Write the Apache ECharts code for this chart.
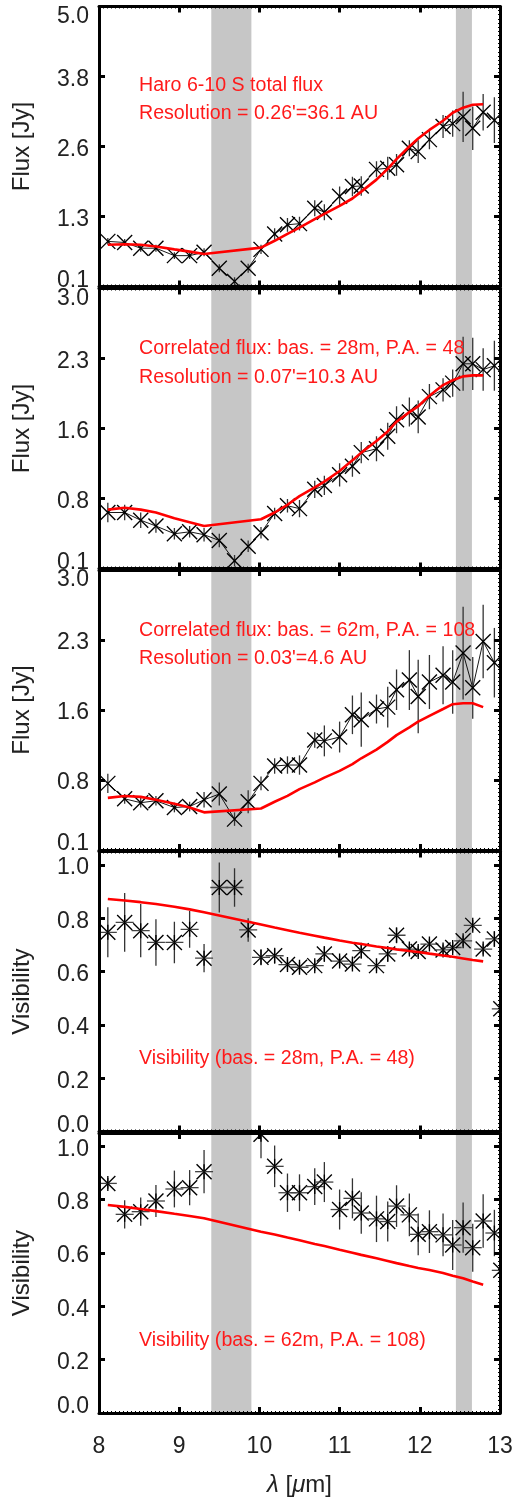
<!DOCTYPE html>
<html><head><meta charset="utf-8">
<script src="https://cdn.jsdelivr.net/npm/echarts@6/dist/echarts.min.js"></script>
<style>html,body{margin:0;padding:0;background:#fff}#c{width:517px;height:1503px}</style>
</head><body><div id="c"></div>
<script>
// ---------- data ----------
const wavelength = [8.11, 8.32, 8.52, 8.71, 8.94, 9.13, 9.31, 9.50, 9.69, 9.86, 10.02, 10.19, 10.35, 10.50, 10.69, 10.81, 11.00, 11.16, 11.27, 11.46, 11.60, 11.71, 11.87, 11.98, 12.12, 12.29, 12.41, 12.54, 12.66, 12.79, 12.93, 13.01];
const modelWavelength = [8.11, 8.32, 8.52, 8.71, 8.94, 9.13, 9.31, 10.02, 10.19, 10.35, 10.50, 10.69, 10.81, 11.00, 11.16, 11.27, 11.46, 11.60, 11.71, 11.87, 11.98, 12.12, 12.29, 12.41, 12.54, 12.66, 12.79];
const bands = [[9.4, 9.9], [12.45, 12.65]];

const totalFlux    = [0.89, 0.87, 0.77, 0.77, 0.64, 0.64, 0.70, 0.42, 0.19, 0.42, 0.75, 1.02, 1.18, 1.20, 1.47, 1.40, 1.68, 1.85, 1.86, 2.15, 2.17, 2.23, 2.52, 2.46, 2.67, 2.90, 2.95, 3.07, 2.87, 3.15, 3.01];
const totalFluxErr = [0.06, 0.06, 0.06, 0.06, 0.06, 0.06, 0.07, 0.07, 0.07, 0.08, 0.08, 0.10, 0.12, 0.12, 0.14, 0.14, 0.17, 0.17, 0.17, 0.14, 0.20, 0.19, 0.14, 0.20, 0.17, 0.20, 0.23, 0.44, 0.38, 0.32, 0.40];
const totalModel   = [0.83, 0.84, 0.83, 0.80, 0.75, 0.71, 0.67, 0.78, 0.90, 1.02, 1.13, 1.28, 1.37, 1.51, 1.64, 1.76, 1.97, 2.16, 2.33, 2.55, 2.69, 2.84, 3.00, 3.14, 3.23, 3.28, 3.29];

const corrFlux28    = [0.68, 0.68, 0.60, 0.54, 0.46, 0.48, 0.45, 0.39, 0.18, 0.33, 0.47, 0.67, 0.75, 0.72, 0.92, 0.96, 1.07, 1.16, 1.30, 1.34, 1.47, 1.64, 1.72, 1.67, 1.88, 1.95, 2.02, 2.22, 2.22, 2.16, 2.20];
const corrFlux28Err = [0.10, 0.08, 0.08, 0.07, 0.06, 0.06, 0.07, 0.07, 0.06, 0.06, 0.06, 0.06, 0.07, 0.09, 0.09, 0.10, 0.12, 0.11, 0.11, 0.13, 0.14, 0.14, 0.15, 0.17, 0.13, 0.12, 0.14, 0.28, 0.27, 0.22, 0.26];
const corrModel28   = [0.71, 0.73, 0.71, 0.68, 0.62, 0.58, 0.54, 0.61, 0.68, 0.76, 0.85, 0.94, 1.00, 1.11, 1.22, 1.30, 1.42, 1.52, 1.62, 1.72, 1.78, 1.89, 2.00, 2.05, 2.09, 2.10, 2.10];

const corrFlux62    = [0.79, 0.63, 0.59, 0.61, 0.54, 0.55, 0.62, 0.68, 0.42, 0.60, 0.79, 0.97, 0.98, 0.98, 1.24, 1.23, 1.27, 1.50, 1.45, 1.56, 1.58, 1.76, 1.86, 1.69, 1.84, 1.91, 1.84, 2.14, 1.78, 2.26, 2.04];
const corrFlux62Err = [0.10, 0.05, 0.05, 0.05, 0.05, 0.05, 0.08, 0.12, 0.07, 0.12, 0.07, 0.08, 0.09, 0.10, 0.08, 0.16, 0.16, 0.20, 0.28, 0.15, 0.21, 0.21, 0.31, 0.38, 0.28, 0.30, 0.33, 0.48, 0.32, 0.38, 0.36];
const corrModel62   = [0.64, 0.66, 0.65, 0.62, 0.58, 0.54, 0.49, 0.53, 0.60, 0.66, 0.73, 0.80, 0.85, 0.92, 0.99, 1.05, 1.14, 1.22, 1.29, 1.37, 1.43, 1.49, 1.56, 1.61, 1.62, 1.62, 1.58];

const vis28    = [0.747, 0.784, 0.753, 0.709, 0.709, 0.758, 0.650, 0.915, 0.915, 0.756, 0.653, 0.659, 0.626, 0.616, 0.622, 0.666, 0.639, 0.628, 0.678, 0.622, 0.666, 0.736, 0.684, 0.675, 0.703, 0.681, 0.690, 0.715, 0.773, 0.684, 0.722, 0.46];
const vis28Err = [0.094, 0.110, 0.100, 0.087, 0.078, 0.069, 0.053, 0.094, 0.072, 0.044, 0.030, 0.030, 0.020, 0.020, 0.020, 0.030, 0.020, 0.020, 0.030, 0.020, 0.030, 0.030, 0.020, 0.020, 0.020, 0.020, 0.020, 0.020, 0.020, 0.020, 0.030, 0.030];
const visModel28 = [0.872, 0.866, 0.860, 0.853, 0.843, 0.833, 0.822, 0.776, 0.765, 0.755, 0.745, 0.734, 0.727, 0.716, 0.708, 0.703, 0.694, 0.688, 0.683, 0.677, 0.673, 0.667, 0.660, 0.655, 0.649, 0.643, 0.638];

const vis62    = [0.861, 0.745, 0.755, 0.795, 0.840, 0.845, 0.905, null, null, null, 1.045, 0.925, 0.826, 0.826, 0.849, 0.866, 0.763, 0.805, 0.750, 0.728, 0.718, 0.776, 0.743, 0.670, 0.680, 0.668, 0.630, 0.695, 0.620, 0.720, 0.675, 0.535];
const vis62Err = [0.020, 0.053, 0.053, 0.060, 0.069, 0.066, 0.081, null, null, null, 0.090, 0.078, 0.072, 0.069, 0.069, 0.075, 0.075, 0.075, 0.078, 0.087, 0.075, 0.078, 0.080, 0.078, 0.080, 0.080, 0.094, 0.094, 0.090, 0.100, 0.087, 0.090];
const visModel62 = [0.780, 0.773, 0.765, 0.757, 0.747, 0.739, 0.730, 0.680, 0.669, 0.658, 0.648, 0.634, 0.626, 0.612, 0.601, 0.593, 0.580, 0.570, 0.562, 0.551, 0.544, 0.536, 0.525, 0.515, 0.505, 0.493, 0.481];

const fluxTicksTotal = ['0.1', '1.3', '2.6', '3.8', '5.0'];
const fluxTicksCorr  = ['0.1', '0.8', '1.6', '2.3', '3.0'];
const visTicks       = ['0.0', '0.2', '0.4', '0.6', '0.8', '1.0'];
const xTicks         = ['8', '9', '10', '11', '12', '13'];

const panelTexts = [
  ['Haro 6-10 S total flux', "Resolution = 0.26'=36.1 AU"],
  ['Correlated flux: bas. = 28m, P.A. = 48', "Resolution = 0.07'=10.3 AU"],
  ['Correlated flux: bas. = 62m, P.A. = 108', "Resolution = 0.03'=4.6 AU"],
  ['Visibility (bas. = 28m, P.A. = 48)'],
  ['Visibility (bas. = 62m, P.A. = 108)']
];

// ---------- layout ----------
const FONT = '"Liberation Sans", Arial, Helvetica, sans-serif';
const GRID_LEFT = 99, GRID_W = 401, GRID_H = 280;
const panels = [
  {top: 6.5,  min: 0.1, max: 5.0,  interval: 1.225, ticks: fluxTicksTotal, name: 'Flux [Jy]',  y: totalFlux,  err: totalFluxErr,  model: totalModel,  marker: 'x',   line: true,  textTop: [76, 104], minor: 17},
  {top: 288.5,min: 0.1, max: 3.0,  interval: 0.725, ticks: fluxTicksCorr,  name: 'Flux [Jy]',  y: corrFlux28, err: corrFlux28Err, model: corrModel28, marker: 'x',   line: true,  textTop: [339, 368], minor: 17},
  {top: 570,  min: 0.1, max: 3.0,  interval: 0.725, ticks: fluxTicksCorr,  name: 'Flux [Jy]',  y: corrFlux62, err: corrFlux62Err, model: corrModel62, marker: 'x',   line: true,  textTop: [621, 649], minor: 17},
  {top: 851.5,min: 0.0, max: 1.05, interval: 0.2,   ticks: visTicks,       name: 'Visibility', y: vis28,      err: vis28Err,      model: visModel28,  marker: 'ast', line: false, textTop: [1049], minor: 13},
  {top: 1133, min: 0.0, max: 1.05, interval: 0.2,   ticks: visTicks,       name: 'Visibility', y: vis62,      err: vis62Err,      model: visModel62,  marker: 'ast', line: false, textTop: [1331], minor: 13}
];

const grids = [], xAxes = [], yAxes = [], series = [], graphics = [];
const lbl = (size) => ({fontSize: size, fontFamily: FONT, color: '#222'});

panels.forEach((p, i) => {
  grids.push({left: GRID_LEFT, width: GRID_W, top: p.top, height: GRID_H, show: false});
  const axisLine = {show: true, onZero: false, lineStyle: {color: '#000', width: 3}};
  const axisTick = {show: true, inside: true, length: 6, lineStyle: {color: '#000', width: 3}};
  const minorX = {show: true, splitNumber: 20, length: 2, lineStyle: {color: '#000', width: 1}};
  const minorY = {show: true, splitNumber: p.minor, length: 2, lineStyle: {color: '#000', width: 1}};
  const last = i === panels.length - 1;
  xAxes.push({
    type: 'value', gridIndex: i, position: 'bottom', min: 8, max: 13, interval: 1, z: 10,
    axisLine, axisTick, minorTick: minorX, splitLine: {show: false},
    axisLabel: Object.assign({show: last, margin: 22, formatter: (v, idx) => xTicks[idx] ?? ''}, lbl(23)),
    name: last ? '{g|λ} [{g|μ}m]' : '', nameLocation: 'middle', nameGap: 60,
    nameTextStyle: Object.assign({rich: {g: {fontStyle: 'italic', fontSize: 24, fontFamily: FONT, color: '#222'}}}, lbl(24))
  });
  xAxes.push({
    type: 'value', gridIndex: i, position: 'top', min: 8, max: 13, interval: 1, z: 10,
    axisLine, axisTick, minorTick: minorX, splitLine: {show: false}, axisLabel: {show: false}
  });
  const richBase = {fontSize: 23, fontFamily: FONT, color: '#222'};
  yAxes.push({
    type: 'value', gridIndex: i, position: 'left', min: p.min, max: p.max, interval: p.interval, z: 10,
    axisLine, axisTick, minorTick: minorY, splitLine: {show: false},
    axisLabel: Object.assign({
      show: true, margin: 10, showMinLabel: true, showMaxLabel: true,
      formatter: (v, idx) => {
        const s = p.ticks[idx];
        if (s === undefined) return '';
        if (idx === 0) return '{b|' + s + '}';
        if (Math.abs(v - p.max) < 1e-6) return '{t|' + s + '}';
        return '{m|' + s + '}';
      },
      rich: {
        b: Object.assign({padding: [0, 0, 12, 0]}, richBase),
        t: Object.assign({padding: [20, 0, 0, 0]}, richBase),
        m: Object.assign({padding: [6, 0, 0, 0]}, richBase)
      }
    }, lbl(23)),
    name: p.name, nameLocation: 'middle', nameGap: 65, nameTextStyle: lbl(24)
  });
  yAxes.push({
    type: 'value', gridIndex: i, position: 'right', min: p.min, max: p.max, interval: p.interval, z: 10,
    axisLine, axisTick, minorTick: minorY, splitLine: {show: false}, axisLabel: {show: false}
  });

  const xi = 2 * i, yi = 2 * i;
  series.push({
    type: 'custom', xAxisIndex: xi, yAxisIndex: yi, z: 1, clip: true, silent: true,
    data: bands.map(b => [b[0], b[1]]),
    encode: {x: [0, 1]},
    renderItem: (params, api) => {
      const a = api.coord([api.value(0), p.max]);
      const b = api.coord([api.value(1), p.min]);
      return {type: 'rect', shape: {x: a[0], y: a[1], width: b[0] - a[0], height: b[1] - a[1]}, style: {fill: '#c6c6c6'}};
    }
  });
  const pts = [];
  p.y.forEach((v, k) => { if (v !== null && v !== undefined) pts.push([wavelength[k], v, p.err[k]]); });
  if (p.line) {
    series.push({
      type: 'line', xAxisIndex: xi, yAxisIndex: yi, z: 4, clip: true, silent: true,
      showSymbol: false, symbol: 'none', data: pts.map(d => [d[0], d[1]]),
      lineStyle: {color: '#000', width: 0.9}
    });
  }
  series.push({
    type: 'custom', xAxisIndex: xi, yAxisIndex: yi, z: 5, clip: true, silent: true,
    data: pts,
    renderItem: (params, api) => {
      const x = api.value(0), y = api.value(1), e = api.value(2);
      const c = api.coord([x, y]);
      const t = api.coord([x, y + e]), b = api.coord([x, y - e]);
      const s = 7.5;
      const st = {stroke: '#000', lineWidth: 1.35};
      const ch = [
        {type: 'line', shape: {x1: c[0], y1: t[1], x2: c[0], y2: b[1]}, style: {stroke: '#333', lineWidth: 1.3}},
        {type: 'line', shape: {x1: c[0] - s, y1: c[1] - s, x2: c[0] + s, y2: c[1] + s}, style: st},
        {type: 'line', shape: {x1: c[0] - s, y1: c[1] + s, x2: c[0] + s, y2: c[1] - s}, style: st}
      ];
      if (p.marker === 'ast') {
        ch.push({type: 'line', shape: {x1: c[0] - s - 1.5, y1: c[1], x2: c[0] + s + 1.5, y2: c[1]}, style: {stroke: '#444', lineWidth: 1.3}});
        ch.push({type: 'line', shape: {x1: c[0], y1: c[1] - s, x2: c[0], y2: c[1] + s}, style: st});
      }
      return {type: 'group', children: ch};
    }
  });
  series.push({
    type: 'line', xAxisIndex: xi, yAxisIndex: yi, z: 6, clip: true, silent: true,
    showSymbol: false, symbol: 'none',
    data: modelWavelength.map((x, k) => [x, p.model[k]]),
    lineStyle: {color: '#ff0000', width: 2.6}
  });
  panelTexts[i].forEach((txt, k) => {
    graphics.push({type: 'text', left: 139, top: p.textTop[k], z: 20, silent: true,
      style: {text: txt, fill: '#ff1a1a', fontSize: 19.6, fontFamily: FONT}});
  });
});

const chart = echarts.init(document.getElementById('c'), null, {renderer: 'canvas'});
chart.setOption({
  animation: false,
  backgroundColor: '#fff',
  grid: grids, xAxis: xAxes, yAxis: yAxes, series: series, graphic: graphics
});
</script></body></html>
